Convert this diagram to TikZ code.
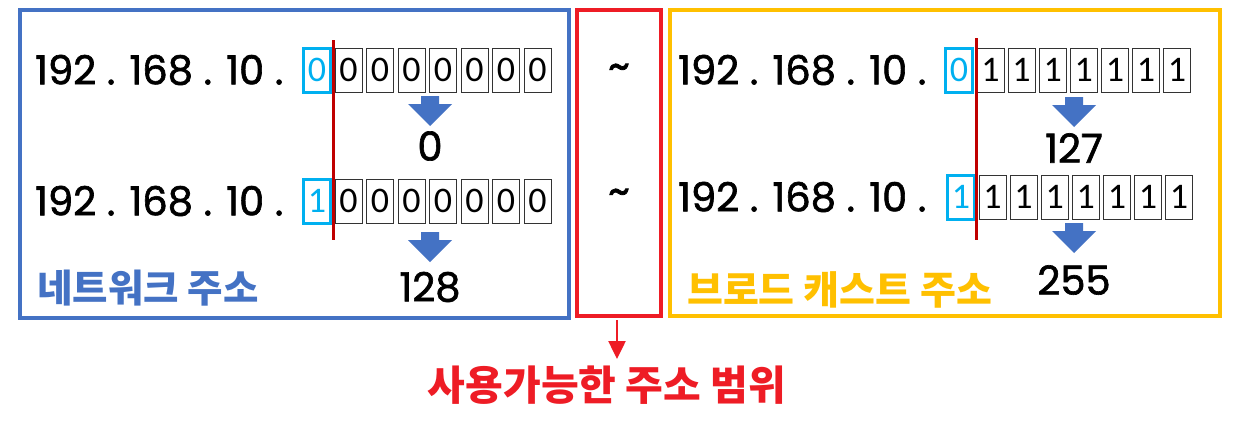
\documentclass[tikz,border=0pt]{standalone}
\usepackage{fontspec}
\newfontfamily\kr{Noto Sans CJK KR}
\newfontfamily\num{Poppins}[FakeBold=1.6]
\newfontfamily\bitf{Carlito}
\usetikzlibrary{arrows.meta}
\definecolor{nblue}{HTML}{4472C4}
\definecolor{nred}{HTML}{EE1C25}
\definecolor{nyel}{HTML}{FFC000}
\definecolor{ncyan}{HTML}{00B0F0}
\definecolor{dred}{HTML}{C00000}
\tikzset{
  bit/.style={draw=black!80, line width=1pt, minimum width=27pt, minimum height=44pt, inner sep=0pt, font=\bitf\fontsize{36}{36}\selectfont},
  hbit/.style={bit, draw=ncyan, line width=3pt, text=ncyan},
  ip/.style={font=\num\fontsize{40}{40}\selectfont, anchor=west, inner sep=0pt},
  res/.style={font=\num\fontsize{40}{40}\selectfont, inner sep=0pt},
  panel/.style={line width=4pt},
  label/.style={font=\kr\bfseries\fontsize{38.5}{38.5}\selectfont, inner sep=0pt},
  sep/.style={draw=dred, line width=3pt},
}
\newcommand{\blockdown}[2]{% x, y top
  \fill[nblue] (#1-9,#2) -- (#1+9,#2) -- (#1+9,#2+8) -- (#1+22,#2+8) -- (#1,#2+30) -- (#1-22,#2+8) -- (#1-9,#2+8) -- cycle;}
\begin{document}
\begin{tikzpicture}[x=1pt,y=-1pt]
\useasboundingbox[fill=white] (0,0) rectangle (1253,429);
% panels
\draw[panel, draw=nblue] (20,10) rectangle (569,318);
\draw[panel, draw=nred] (577,10) rectangle (661,316);
\draw[panel, draw=nyel] (670,10) rectangle (1220,316);
% left rows
\node[ip] (ipL1) at (35,70) {192 . 168 . 10 .};
\node[ip] (ipL2) at (35,201) {192 . 168 . 10 .};
\node[hbit] (L1b0) at (317,70) {0};
\foreach \i in {1,...,7} \node[bit] (L1b\i) at ({348.5+31.5*(\i-1)},70) {0};
\node[hbit] (L2b0) at (317,201) {1};
\foreach \i in {1,...,7} \node[bit] (L2b\i) at ({348.5+31.5*(\i-1)},201) {0};
\draw[sep] (333,40) -- (333,240);
\blockdown{430}{96}
\node[res] (r0) at (430,146) {0};
\blockdown{430}{232}
\node[res] (r128) at (430,287) {128};
% tildes
\node[font=\num\fontsize{42}{42}\selectfont, inner sep=0pt] (t1) at (619,72) {\char`\~};
\node[font=\num\fontsize{42}{42}\selectfont, inner sep=0pt] (t2) at (619,197) {\char`\~};
% right rows
\node[ip] (ipR1) at (678,70) {192 . 168 . 10 .};
\node[ip] (ipR2) at (678,197) {192 . 168 . 10 .};
\node[hbit] (R1b0) at (959,70) {0};
\foreach \i in {1,...,7} \node[bit] (R1b\i) at ({990.5+31.1*(\i-1)},70) {1};
\node[hbit] (R2b0) at (961,197) {1};
\foreach \i in {1,...,7} \node[bit] (R2b\i) at ({992.5+31.1*(\i-1)},197) {1};
\draw[sep] (976,38) -- (976,240);
\blockdown{1074}{97}
\node[res] (r127) at (1074,148) {127};
\blockdown{1074}{223}
\node[res] (r255) at (1074,280) {255};
% labels
\node[label, text=nblue, anchor=west] (lnet) at (37,288) {네트워크 주소};
\node[label, text=nyel, anchor=west, font=\kr\bfseries\fontsize{39}{39}\selectfont] (lbc) at (687,290) {브로드 캐스트 주소};
\node[label, text=nred, font=\kr\bfseries\fontsize{41}{41}\selectfont] (lrange) at (607,385) {사용가능한 주소 범위};
\coordinate (rb) at (617,320);
\coordinate (re) at (617,359);
\draw[nred, line width=2.5pt, -{Triangle[width=17pt,length=18pt]}] (rb) -- (re);
\end{tikzpicture}
\end{document}
